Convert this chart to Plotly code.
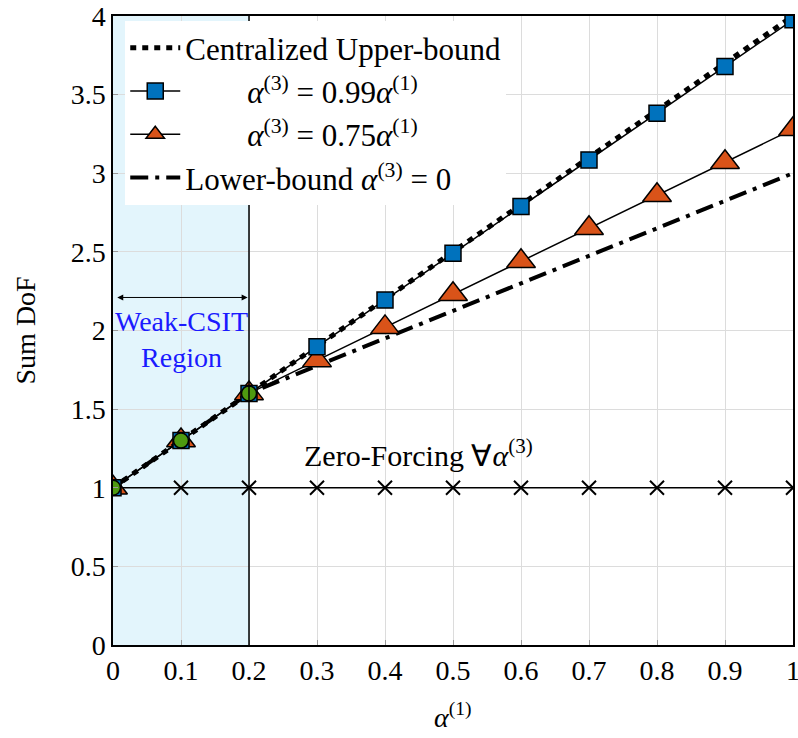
import plotly.graph_objects as go

# ---- data ----
alpha1 = [0.0, 0.1, 0.2, 0.3, 0.4, 0.5, 0.6, 0.7, 0.8, 0.9, 1.0]
upper_bound = [1.0, 1.3, 1.6, 1.9, 2.2, 2.5, 2.8, 3.1, 3.4, 3.7, 4.0]
dof_099 = [1.0, 1.3, 1.6, 1.897, 2.194, 2.491, 2.788, 3.085, 3.382, 3.679, 3.976]
dof_075 = [1.0, 1.3, 1.6, 1.81, 2.02, 2.23, 2.44, 2.65, 2.86, 3.07, 3.28]
lower_x = [0.0, 0.2, 1.0]
lower_bound = [1.0, 1.6, 3.0]
zero_forcing = [1, 1, 1, 1, 1, 1, 1, 1, 1, 1, 1]
weak_x = [0.0, 0.1, 0.2]
weak_y = [1.0, 1.3, 1.6]
x_ticks = [0, 0.1, 0.2, 0.3, 0.4, 0.5, 0.6, 0.7, 0.8, 0.9, 1]
x_ticklabels = ["0", "0.1", "0.2", "0.3", "0.4", "0.5", "0.6", "0.7", "0.8", "0.9", "1"]
y_ticks = [0, 0.5, 1, 1.5, 2, 2.5, 3, 3.5, 4]
y_ticklabels = ["0", "0.5", "1", "1.5", "2", "2.5", "3", "3.5", "4"]
weak_region = [0.0, 0.2]

FONT = "Liberation Serif"
FS = 28
LFS = 31
NB = "\u00a0"

fig = go.Figure()

# lower bound
fig.add_trace(go.Scatter(
    x=lower_x, y=lower_bound, mode="lines",
    line=dict(color="black", width=4, dash="18px,7px,4px,7px"),
    name="Lower-bound <i>α</i><sup>(3)</sup> = 0",
    legendrank=4))

# zero forcing
fig.add_trace(go.Scatter(
    x=alpha1, y=zero_forcing, mode="lines+markers",
    line=dict(color="black", width=1.5),
    marker=dict(symbol="x-thin", size=14, line=dict(color="black", width=2)),
    showlegend=False))

# 0.75
fig.add_trace(go.Scatter(
    x=alpha1, y=dof_075, mode="lines+markers",
    line=dict(color="black", width=1.5),
    marker=dict(symbol="triangle-up", size=25, color="#D95319",
                line=dict(color="black", width=1.5)),
    name=NB * 8 + "<i>α</i><sup>(3)</sup> = 0.75<i>α</i><sup>(1)</sup>",
    legendrank=3))

# upper bound
fig.add_trace(go.Scatter(
    x=alpha1, y=upper_bound, mode="lines",
    line=dict(color="black", width=5, dash="6px,6px"),
    name="Centralized Upper-bound",
    legendrank=1))

# 0.99
fig.add_trace(go.Scatter(
    x=alpha1, y=dof_099, mode="lines+markers",
    line=dict(color="black", width=1.5),
    marker=dict(symbol="square", size=16, color="#0072BD",
                line=dict(color="black", width=1.5)),
    name=NB * 8 + "<i>α</i><sup>(3)</sup> = 0.99<i>α</i><sup>(1)</sup>",
    legendrank=2))

# weak-CSIT points
fig.add_trace(go.Scatter(
    x=weak_x, y=weak_y, mode="markers",
    marker=dict(symbol="circle", size=15, color="#4E9A10",
                line=dict(color="black", width=1.5)),
    showlegend=False))

# shaded region + boundary line
fig.add_shape(type="rect", xref="x", yref="y", x0=weak_region[0], x1=weak_region[1],
              y0=0, y1=4, fillcolor="#E3F5FC", line=dict(width=0), layer="below")
fig.add_shape(type="line", xref="x", yref="y", x0=weak_region[1], x1=weak_region[1],
              y0=0, y1=4, line=dict(color="black", width=1.5))

# double arrow
fig.add_annotation(x=0.198, y=2.21, ax=0.004, ay=2.21, xref="x", yref="y",
                   axref="x", ayref="y", text="", showarrow=True,
                   arrowhead=2, arrowside="end+start", arrowsize=1.2,
                   arrowwidth=1, arrowcolor="black")
fig.add_annotation(x=0.1, y=1.94, xref="x", yref="y", text="Weak-CSIT<br>Region",
                   showarrow=False, font=dict(family=FONT, size=FS, color="#1A1AFF"))
fig.add_annotation(x=0.449, y=1.22, xref="x", yref="y",
                   text="Zero-Forcing ∀<i>α</i><sup>(3)</sup>",
                   showarrow=False, font=dict(family=FONT, size=30, color="black"))

# axis titles
fig.add_annotation(x=-0.128, y=0.5, xref="paper", yref="paper", text="Sum DoF",
                   textangle=-90, showarrow=False, xanchor="center", yanchor="middle",
                   font=dict(family=FONT, size=FS, color="black"))
fig.add_annotation(x=0.5, y=-0.112, xref="paper", yref="paper",
                   text="<i>α</i><sup>(1)</sup>", showarrow=False,
                   xanchor="center", yanchor="middle",
                   font=dict(family=FONT, size=FS, color="black"))

axis_common = dict(showline=True, mirror=True, linecolor="black", linewidth=1.5,
                   showgrid=True, gridcolor="#DCDCDC", gridwidth=1,
                   zeroline=False, ticks="inside", ticklen=5, tickcolor="#999999",
                   automargin=False, ticklabeloverflow="allow",
                   tickfont=dict(family=FONT, size=FS, color="black"))

fig.update_xaxes(range=[0, 1], tickvals=x_ticks, ticktext=x_ticklabels, **axis_common)
fig.update_yaxes(range=[0, 4], tickvals=y_ticks, ticktext=y_ticklabels, **axis_common)

fig.update_layout(
    width=798, height=738,
    margin=dict(l=113, r=5, t=16, b=93),
    plot_bgcolor="white", paper_bgcolor="white",
    font=dict(family=FONT, size=FS, color="black"),
    legend=dict(x=0.018, y=0.992, xanchor="left", yanchor="top",
                bgcolor="white", borderwidth=0, itemwidth=50,
                traceorder="normal",
                font=dict(family=FONT, size=LFS, color="black")),
)

fig.write_html("out.html", config={"displayModeBar": False},
               post_script="document.body.style.margin='0';document.body.style.overflow='hidden';")
